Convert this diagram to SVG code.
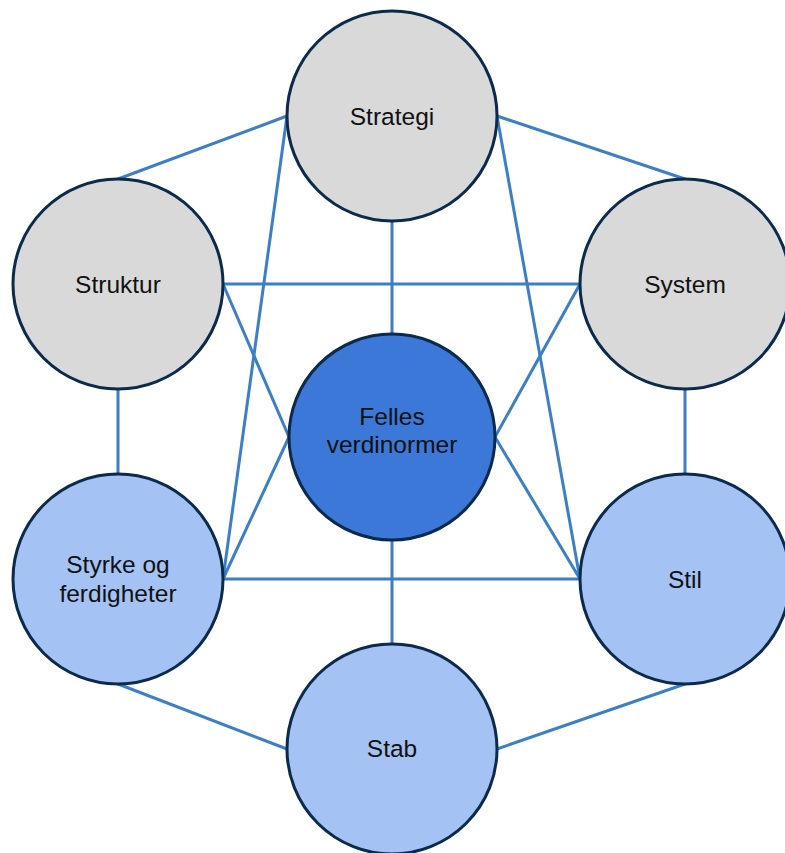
<svg xmlns="http://www.w3.org/2000/svg" width="785" height="853" viewBox="0 0 785 853">
<style>
.c{stroke:#0c2a4a;stroke-width:3}
.g{fill:#d9d9d9}
.d{fill:#3c78d8}
.l{fill:#a4c2f4}
.t{font-family:"Liberation Sans",Arial,sans-serif;font-size:24.5px;fill:#111;text-anchor:middle}
#connectors line{stroke:#3d7fc4;stroke-width:3;stroke-linecap:round}
</style>
<rect width="785" height="853" fill="#ffffff"/>
<g id="connectors">
<line x1="287" y1="116" x2="118" y2="179"/>
<line x1="497" y1="116" x2="685" y2="179"/>
<line x1="392" y1="221" x2="392" y2="334"/>
<line x1="287" y1="116" x2="223" y2="579"/>
<line x1="497" y1="116" x2="580" y2="579"/>
<line x1="223" y1="284" x2="580" y2="284"/>
<line x1="223" y1="284" x2="289" y2="437"/>
<line x1="580" y1="284" x2="495" y2="437"/>
<line x1="223" y1="579" x2="289" y2="437"/>
<line x1="580" y1="579" x2="495" y2="437"/>
<line x1="118" y1="389" x2="118" y2="474"/>
<line x1="685" y1="389" x2="685" y2="474"/>
<line x1="223" y1="579" x2="580" y2="579"/>
<line x1="392" y1="540" x2="392" y2="644"/>
<line x1="118" y1="684" x2="287" y2="749"/>
<line x1="685" y1="684" x2="497" y2="749"/>
</g>
<g id="strategi"><circle class="c g" cx="392" cy="116" r="105"/><text class="t" x="392" y="125">Strategi</text></g>
<g id="struktur"><circle class="c g" cx="118" cy="284" r="105"/><text class="t" x="118" y="293">Struktur</text></g>
<g id="system"><circle class="c g" cx="685" cy="284" r="105"/><text class="t" x="685" y="293">System</text></g>
<g id="felles"><circle class="c d" cx="392" cy="437" r="103"/><text class="t" x="392" y="425">Felles</text><text class="t" x="392" y="453">verdinormer</text></g>
<g id="styrke"><circle class="c l" cx="118" cy="579" r="105"/><text class="t" x="118" y="573">Styrke og</text><text class="t" x="118" y="602">ferdigheter</text></g>
<g id="stil"><circle class="c l" cx="685" cy="579" r="105"/><text class="t" x="685" y="588">Stil</text></g>
<g id="stab"><circle class="c l" cx="392" cy="749" r="105"/><text class="t" x="392" y="757">Stab</text></g>
</svg>
